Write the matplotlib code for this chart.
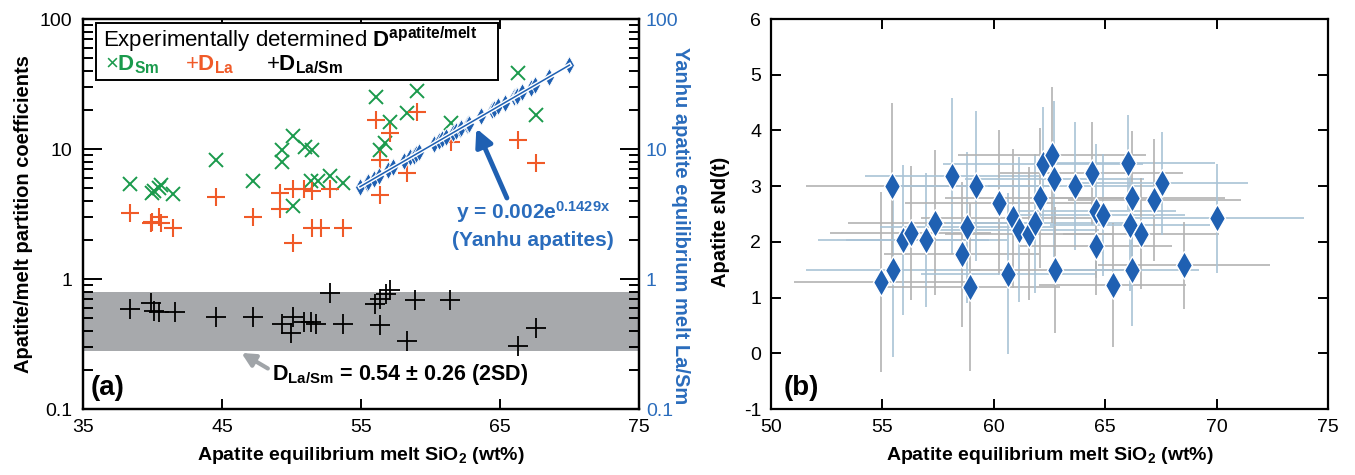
import numpy as np
import matplotlib
matplotlib.use('Agg')
import matplotlib.pyplot as plt
from matplotlib import ticker
from matplotlib.patches import Rectangle

plt.rcParams['font.family'] = ['Liberation Sans', 'DejaVu Sans']
plt.rcParams['mathtext.fontset'] = 'custom'
plt.rcParams['mathtext.rm'] = 'Liberation Sans'
plt.rcParams['mathtext.bf'] = 'Liberation Sans:bold'
plt.rcParams['mathtext.it'] = 'Liberation Sans:italic'

# ---------------- data: panel (a) ----------------
sm_sio2 = [38.4, 40.0, 40.1, 40.6, 40.5, 41.5, 44.6, 47.2, 49.3, 49.3, 50.1, 51.0, 51.5, 50.1,
           51.4, 51.9, 52.8, 53.7, 56.1, 59.0, 57.1, 58.3, 61.5, 56.4, 56.7, 66.3, 67.6]
sm_d = [5.35, 4.56, 4.78, 5.28, 4.99, 4.48, 8.23, 5.67, 9.83, 7.9, 12.6, 10.4, 9.83, 3.64,
        5.67, 5.67, 6.2, 5.45, 25.2, 28.1, 16.2, 18.8, 15.8, 9.83, 11.2, 38.2, 18.3]

la_sio2 = [38.4, 40.0, 39.9, 40.5, 40.6, 41.5, 44.6, 47.2, 49.2, 49.2, 50.1, 50.9, 51.5, 50.1,
           51.5, 52.1, 52.8, 53.7, 56.1, 57.1, 59.0, 58.3, 56.4, 61.5, 56.4, 66.3, 67.6]
la_d = [3.2, 2.76, 2.71, 2.98, 2.71, 2.48, 4.3, 2.98, 4.56, 3.44, 4.9, 4.9, 4.78, 1.9,
        2.48, 2.48, 4.9, 2.48, 16.7, 13.2, 19.4, 6.5, 8.23, 11.4, 4.43, 11.7, 7.85]

lasm_sio2 = [38.4, 39.9, 40.1, 40.5, 41.6, 44.6, 47.2, 49.3, 50.1, 50.0, 50.9, 51.4, 51.8,
             52.8, 53.7, 56.0, 56.4, 56.8, 57.1, 56.4, 58.3, 58.9, 61.4, 66.3, 67.6]
lasm_d = [0.588, 0.65, 0.57, 0.553, 0.553, 0.512, 0.506, 0.449, 0.512, 0.386, 0.463, 0.463,
          0.449, 0.783, 0.449, 0.642, 0.703, 0.77, 0.828, 0.441, 0.333, 0.69, 0.69, 0.304, 0.423]

lasm_mean = 0.54
lasm_2sd = 0.26

# Yanhu fit: La/Sm = 0.002 * exp(0.1429 * SiO2)
fit_a = 0.002
fit_b = 0.1429

# ---------------- data: panel (b) ----------------
nd_sio2 = [54.93, 55.48, 55.45, 55.94, 56.27, 56.97, 57.34, 58.13, 58.55, 58.78, 58.95, 59.18,
           60.22, 60.64, 60.85, 61.12, 61.6, 61.87, 62.09, 62.21, 62.61, 62.72, 62.76, 63.66,
           64.4, 64.58, 64.58, 64.88, 65.33, 66.01, 66.19, 66.12, 66.61, 66.19, 67.21, 67.54,
           68.54, 70.0]
nd_eps = [1.28, 1.50, 3.0, 2.03, 2.16, 2.04, 2.34, 3.18, 1.78, 2.26, 1.19, 3.0,
          2.70, 1.43, 2.42, 2.22, 2.15, 2.33, 2.79, 3.39, 3.56, 3.12, 1.49, 3.0,
          3.23, 2.55, 1.92, 2.48, 1.22, 3.42, 2.79, 2.31, 2.15, 1.49, 2.75, 3.05,
          1.58, 2.42]
sio2_err = [3.9, 3.9, 3.9, 3.85, 3.6, 3.6, 3.9, 3.9, 3.5, 3.9, 4.0, 3.8,
            4.2, 3.9, 4.1, 3.6, 3.8, 4.0, 4.3, 4.5, 4.2, 4.0, 3.8, 3.9,
            4.1, 3.6, 3.4, 3.7, 3.3, 3.9, 4.2, 3.6, 3.5, 3.0, 3.9, 3.85,
            3.85, 3.9]
eps_err = [1.62, 1.57, 1.5, 1.35, 1.2, 1.2, 1.3, 1.4, 1.3, 1.35, 1.5, 1.35,
           1.3, 1.45, 1.25, 1.3, 1.2, 1.25, 1.25, 1.03, 1.22, 1.4, 1.13, 1.15,
           0.92, 1.2, 0.88, 1.1, 1.11, 0.85, 1.2, 1.2, 1.0, 1.0, 1.1, 0.92,
           0.78, 0.98]

a_yticks = [0.1, 1, 10, 100]
a_xticks = [35, 45, 55, 65, 75]
b_xticks = [50, 55, 60, 65, 70, 75]
b_yticks = [-1, 0, 1, 2, 3, 4, 5, 6]

GREEN = '#1a9a4c'
RED = '#f05a28'
BLUE = '#1f60b2'
TBLUE = '#2a6cbc'
BAND = '#a7a9ac'
TICKFS = 14
LABFS = 14

fig = plt.figure(figsize=(13.55, 4.75), dpi=100)
fig.patch.set_facecolor('white')

# ================= panel (a) =================
ax = fig.add_axes([0.06125, 0.1389, 0.4103, 0.8211])
ax.set_yscale('log')
ax.set_xlim(35, 75)
ax.set_ylim(0.1, 100)

ax.axhspan(lasm_mean - lasm_2sd, lasm_mean + lasm_2sd, color=BAND, zorder=0, lw=0)

ax.plot(sm_sio2, sm_d, ls='none', marker='x', ms=10, mew=1.4, color=GREEN, zorder=3)
ax.plot(la_sio2, la_d, ls='none', marker='+', ms=13, mew=1.5, color=RED, zorder=3)
ax.plot(lasm_sio2, lasm_d, ls='none', marker='+', ms=14, mew=1.3, color='black', zorder=3)

# Yanhu apatite trend
yx = np.array(sorted(nd_sio2))
yy = fit_a * np.exp(fit_b * yx)
ax.plot(yx, yy, ls='none', marker='d', ms=9, color=BLUE, mec='white', mew=0.6, zorder=4)
fxs = np.linspace(min(nd_sio2), max(nd_sio2), 50)
ax.plot(fxs, fit_a * np.exp(fit_b * fxs), color='white', lw=3.2, zorder=5)
ax.plot(fxs, fit_a * np.exp(fit_b * fxs), color=BLUE, lw=1.1, zorder=6)

ax.annotate('', xy=(63.3, 14.4), xytext=(65.5, 4.2),
            arrowprops=dict(arrowstyle='-|>', color=BLUE, lw=3.5, mutation_scale=26,
                            shrinkA=0, shrinkB=0), zorder=7)
ax.text(0.81, 0.505, r'y = 0.002e$^{\mathbf{0.1429x}}$', transform=ax.transAxes,
        color=TBLUE, fontsize=15, fontweight='bold', ha='center', va='center')
ax.text(0.81, 0.432, '(Yanhu apatites)', transform=ax.transAxes,
        color=TBLUE, fontsize=15, fontweight='bold', ha='center', va='center')

# D La/Sm annotation
ax.annotate('', xy=(46.4, 0.27), xytext=(48.3, 0.205),
            arrowprops=dict(arrowstyle='-|>', color='#a0a4a8', lw=3, mutation_scale=20,
                            shrinkA=0, shrinkB=0))
ax.text(48.6, 0.183, r'$\mathbf{D_{La/Sm}}$ = 0.54 ± 0.26 (2SD)', fontsize=15.5,
        fontweight='bold', ha='left', va='center')

ax.text(0.013, 0.055, '(a)', transform=ax.transAxes, fontsize=20, fontweight='bold',
        ha='left', va='center')

# legend box
ax.add_patch(Rectangle((0.0234, 0.8436), 0.7236, 0.1454, transform=ax.transAxes,
                       fill=True, facecolor='white', edgecolor='black', lw=1.4, zorder=8))
LEGFS = 16
ax.text(0.036, 0.927, r'Experimentally determined $\mathbf{D^{apatite/melt}}$',
        transform=ax.transAxes, fontsize=LEGFS, ha='left', va='baseline', zorder=9)
ax.text(0.040, 0.868, r'×$\mathbf{D_{Sm}}$', transform=ax.transAxes, fontsize=LEGFS,
        color=GREEN, ha='left', va='baseline', zorder=9)
ax.text(0.183, 0.868, r'+$\mathbf{D_{La}}$', transform=ax.transAxes, fontsize=LEGFS,
        color=RED, ha='left', va='baseline', zorder=9)
ax.text(0.330, 0.868, r'+$\mathbf{D_{La/Sm}}$', transform=ax.transAxes, fontsize=LEGFS,
        color='black', ha='left', va='baseline', zorder=9)

fmt = ticker.FuncFormatter(lambda v, p: f'{v:g}')
ax.set_xticks(a_xticks)
ax.set_yticks(a_yticks)
ax.yaxis.set_major_formatter(fmt)
ax.yaxis.set_minor_formatter(ticker.NullFormatter())
ax.tick_params(axis='y', which='major', direction='in', length=14, width=1.4,
               labelsize=TICKFS, pad=8)
ax.tick_params(axis='y', which='minor', direction='in', length=7, width=1.4)
ax.tick_params(axis='x', which='major', direction='in', length=7, width=1.4,
               labelsize=TICKFS, pad=7, top=True)
for s in ax.spines.values():
    s.set_linewidth(1.6)
ax.set_xlabel(r'Apatite equilibrium melt SiO$_\mathbf{2}$ (wt%)', fontsize=LABFS,
              fontweight='bold')
ax.xaxis.set_label_coords(0.5, -0.092)
ax.set_ylabel('Apatite/melt partition coefficients', fontsize=14.5, fontweight='bold')
ax.yaxis.set_label_coords(-0.09, 0.5)

ax2 = ax.twinx()
ax2.set_yscale('log')
ax2.set_ylim(0.1, 100)
ax2.set_yticks(a_yticks)
ax2.yaxis.set_major_formatter(fmt)
ax2.yaxis.set_minor_formatter(ticker.NullFormatter())
ax2.tick_params(axis='y', which='major', direction='in', length=14, width=1.4,
                labelsize=TICKFS, pad=5, labelcolor=TBLUE)
ax2.tick_params(axis='y', which='minor', direction='in', length=7, width=1.4)
ax2.set_ylabel('Yanhu apatite equilibrium melt La/Sm', fontsize=14.5, fontweight='bold',
               color=TBLUE, rotation=270, va='center')
ax2.yaxis.set_label_coords(1.075, 0.47)
for s in ax2.spines.values():
    s.set_linewidth(1.6)

# ================= panel (b) =================
bx = fig.add_axes([0.569, 0.1389, 0.4111, 0.8211])
bx.set_xlim(50, 75)
bx.set_ylim(-1, 6)
err_cols = ['#b3b3b3', '#a9c3d6']
for i in range(len(nd_sio2)):
    bx.errorbar(nd_sio2[i], nd_eps[i], xerr=sio2_err[i], yerr=eps_err[i], fmt='none',
                ecolor=err_cols[i % 2], elinewidth=1.2, capsize=0, zorder=2)
bx.plot(nd_sio2, nd_eps, ls='none', marker='d', ms=14, color=BLUE, mec='white',
        mew=1.0, zorder=4)
bx.set_xticks(b_xticks)
bx.set_yticks(b_yticks)
bx.yaxis.set_major_formatter(ticker.FuncFormatter(lambda v, p: f'{v:g}'))
bx.tick_params(direction='in', length=7, width=1.4, labelsize=TICKFS, pad=7,
               top=True, right=True)
for s in bx.spines.values():
    s.set_linewidth(1.6)
bx.text(0.023, 0.055, '(b)', transform=bx.transAxes, fontsize=20, fontweight='bold',
        ha='left', va='center')
bx.set_xlabel(r'Apatite equilibrium melt SiO$_\mathbf{2}$ (wt%)', fontsize=LABFS,
              fontweight='bold')
bx.xaxis.set_label_coords(0.5, -0.092)
bx.set_ylabel('Apatite εNd(t)', fontsize=14.5, fontweight='bold')
bx.yaxis.set_label_coords(-0.074, 0.48)

fig.savefig('out.png', dpi=100)
